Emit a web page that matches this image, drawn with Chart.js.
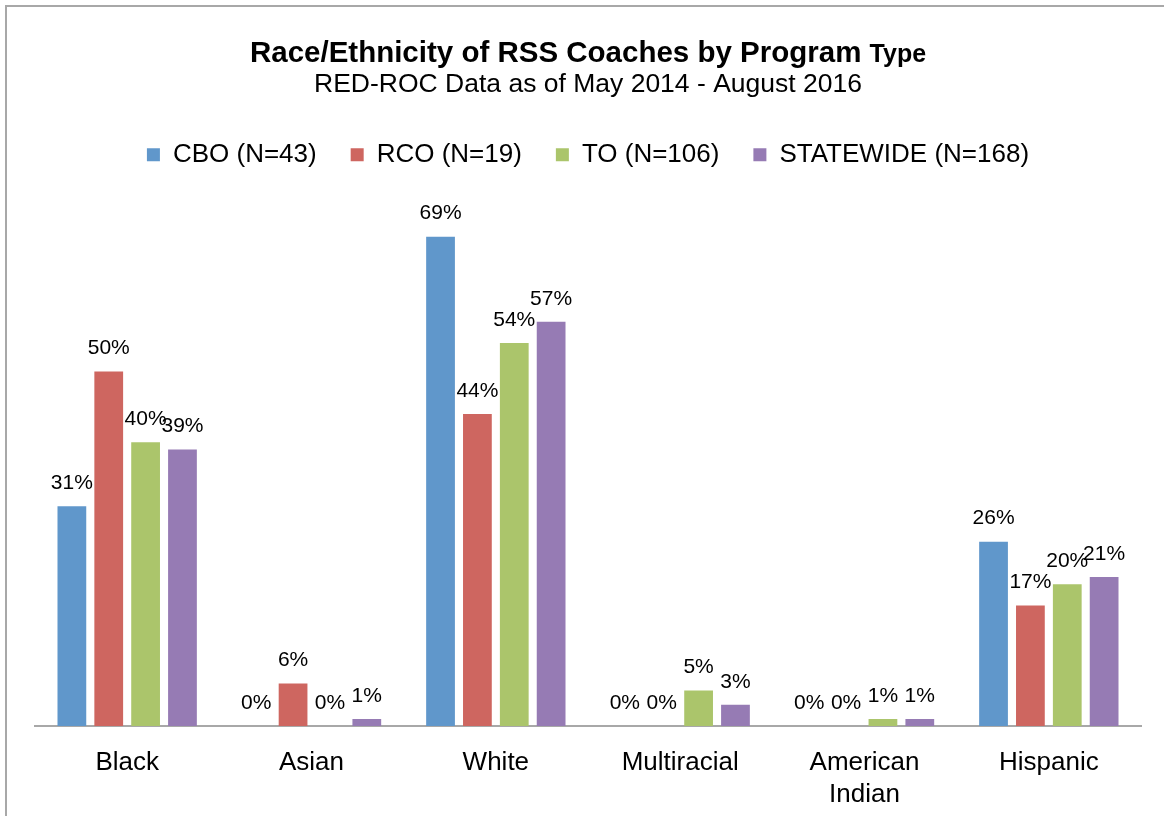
<!DOCTYPE html>
<html lang="en">
<head>
    <meta charset="UTF-8">
    <title>Race/Ethnicity of RSS Coaches by Program Type</title>
    <script src="https://cdn.jsdelivr.net/npm/chart.js"></script>
    <style>
        html, body { margin: 0; padding: 0; background: #fff; overflow: hidden; }
        canvas { display: block; }
    </style>
</head>
<body>

    <canvas id="raceChart" width="1164" height="816"></canvas>

    <script>
        // Chart data (percent of coaches)
        const categories = ["Black", "Asian", "White", "Multiracial", ["American", "Indian"], "Hispanic"];
        const seriesNames = ["CBO (N=43)", "RCO (N=19)", "TO (N=106)", "STATEWIDE (N=168)"];
        const cbo       = [31, 0, 69, 0, 0, 26];
        const rco       = [50, 6, 44, 0, 0, 17];
        const to        = [40, 0, 54, 5, 1, 20];
        const statewide = [39, 1, 57, 3, 1, 21];

        const colors = ["#6097CB", "#CE6660", "#ABC56B", "#967BB4"];
        const FONT = "'Liberation Sans', Arial, Helvetica, sans-serif";

        // white background + grey frame
        const framePlugin = {
            id: "frame",
            beforeDraw(chart) {
                const c = chart.ctx;
                c.save();
                c.fillStyle = "#fff";
                c.fillRect(0, 0, chart.width, chart.height);
                c.strokeStyle = "#a8a8a8";
                c.lineWidth = 2;
                c.strokeRect(6, 6, chart.width + 20, chart.height + 20);
                c.restore();
            }
        };

        // main title: last word is set a bit smaller, like the original
        const titlePlugin = {
            id: "mixedTitle",
            afterDraw(chart) {
                const c = chart.ctx;
                const part1 = "Race/Ethnicity of RSS Coaches by Program ";
                const part2 = "Type";
                c.save();
                c.fillStyle = "#000";
                c.textBaseline = "alphabetic";
                c.font = "bold 29.5px " + FONT;
                const w1 = c.measureText(part1).width;
                c.font = "bold 25px " + FONT;
                const w2 = c.measureText(part2).width;
                const cx = (chart.chartArea.left + chart.chartArea.right) / 2;
                const x0 = cx - (w1 + w2) / 2;
                const y = chart.legend.top - 46;
                c.textAlign = "left";
                c.font = "bold 29.5px " + FONT;
                c.fillText(part1, x0, y);
                c.font = "bold 25px " + FONT;
                c.fillText(part2, x0 + w1, y);
                c.restore();
            }
        };

        // percent labels above every bar
        const valueLabels = {
            id: "valueLabels",
            afterDatasetsDraw(chart) {
                const c = chart.ctx;
                c.save();
                c.font = "21px " + FONT;
                c.fillStyle = "#000";
                c.textAlign = "center";
                c.textBaseline = "middle";
                chart.data.datasets.forEach((ds, i) => {
                    chart.getDatasetMeta(i).data.forEach((bar, j) => {
                        c.fillText(ds.data[j] + "%", bar.x, bar.y - 23);
                    });
                });
                c.restore();
            }
        };

        const ctx = document.getElementById("raceChart").getContext("2d");

        new Chart(ctx, {
            type: "bar",
            data: {
                labels: categories,
                datasets: [cbo, rco, to, statewide].map((vals, i) => ({
                    label: seriesNames[i],
                    data: vals,
                    backgroundColor: colors[i],
                    borderWidth: 0,
                    categoryPercentage: 0.8,
                    barPercentage: 0.78
                }))
            },
            options: {
                responsive: false,
                animation: false,
                layout: { padding: { top: 68, left: 35, right: 23, bottom: -16 } },
                plugins: {
                    title: { display: false },
                    subtitle: {
                        display: true,
                        text: "RED-ROC Data as of May 2014 - August 2016",
                        color: "#000",
                        font: { family: FONT, size: 26.5, weight: "normal", lineHeight: 1.2 },
                        padding: { top: 1, bottom: 7 }
                    },
                    legend: {
                        display: true,
                        position: "top",
                        labels: {
                            color: "#000",
                            font: { family: FONT, size: 26 },
                            boxWidth: 13,
                            boxHeight: 13,
                            padding: 34
                        }
                    },
                    tooltip: { enabled: false }
                },
                scales: {
                    x: {
                        grid: { display: false, drawTicks: false },
                        border: { display: true, color: "#a8a8a8", width: 2 },
                        ticks: {
                            color: "#000",
                            font: { family: FONT, size: 26, lineHeight: 1.23 },
                            padding: 21,
                            maxRotation: 0,
                            autoSkip: false
                        }
                    },
                    y: {
                        display: false,
                        min: 0,
                        max: 77.3
                    }
                }
            },
            plugins: [framePlugin, titlePlugin, valueLabels]
        });
    </script>

</body>
</html>
